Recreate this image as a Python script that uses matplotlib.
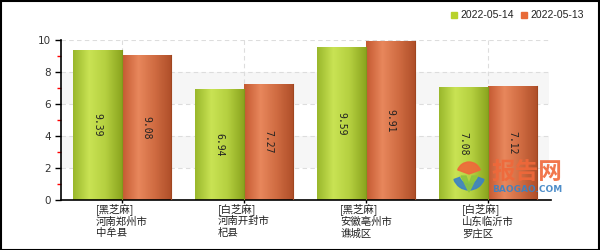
import numpy as np
import matplotlib
matplotlib.use("Agg")
import matplotlib.pyplot as plt
from matplotlib.colors import LinearSegmentedColormap
from matplotlib.patches import Rectangle, Wedge, Polygon

# data
categories = ["[黑芝麻]\n河南郑州市\n中牟县", "[白芝麻]\n河南开封市\n杞县",
              "[黑芝麻]\n安徽亳州市\n谯城区", "[白芝麻]\n山东临沂市\n罗庄区"]
series_names = ["2022-05-14", "2022-05-13"]
values_0514 = [9.39, 6.94, 9.59, 7.08]
values_0513 = [9.08, 7.27, 9.91, 7.12]
yticks = [0, 2, 4, 6, 8, 10]

cjk = ["Noto Sans CJK SC", "DejaVu Sans"]

fig = plt.figure(figsize=(6, 2.5), dpi=100)
fig.patch.set_facecolor("white")
fig.patches.append(Rectangle((0.001, 0.002), 0.997, 0.994, transform=fig.transFigure,
                             fill=False, edgecolor="black", linewidth=1.5))

ax = fig.add_axes([61 / 600, 50 / 250, 488 / 600, 160 / 250])
ax.set_xlim(-0.5, 3.5)
ax.set_ylim(0, 10)

# background bands and grid
for lo in (2, 6):
    ax.axhspan(lo, lo + 2, color="#f6f6f6", zorder=0, lw=0)
for y in yticks[1:]:
    ax.axhline(y, color="#dddddd", lw=0.8, ls=(0, (4, 3)), zorder=0.5)
for i in range(len(categories)):
    ax.axvline(i, color="#dddddd", lw=0.8, ls=(0, (4, 3)), zorder=0.5)

x = np.arange(len(categories))
w = 0.4
green = LinearSegmentedColormap.from_list("g", ["#9ab82c", "#c9e354", "#b5d040", "#8ca61f"])
red = LinearSegmentedColormap.from_list("r", ["#c55a32", "#e8875c", "#d06c42", "#b0502a"])
grad = np.linspace(0, 1, 64).reshape(1, -1)

for vals, off, cmap, edge in [(values_0514, -w / 2, green, "#7f981c"),
                              (values_0513, w / 2, red, "#a04620")]:
    bars = ax.bar(x + off, vals, width=w, color="none", edgecolor="none", zorder=2)
    for b, v in zip(bars, vals):
        x0, y0 = b.get_x(), b.get_y()
        im = ax.imshow(grad, cmap=cmap, aspect="auto", zorder=2,
                       extent=(x0, x0 + b.get_width(), y0, y0 + b.get_height()))
        im.set_clip_path(b)
        ax.plot([x0 + b.get_width()] * 2, [0, v], color=edge, lw=0.8, zorder=3)
        ax.text(x0 + b.get_width() / 2, v / 2, f"{v:.2f}", rotation=-90,
                ha="center", va="center", fontsize=7, family="DejaVu Sans Mono",
                color="#222222", zorder=4)
ax.set_xlim(-0.5, 3.5)
ax.set_ylim(0, 10)

for s in ("top", "right"):
    ax.spines[s].set_visible(False)
ax.spines["left"].set_linewidth(1.2)
ax.spines["bottom"].set_linewidth(1.2)
ax.spines["bottom"].set_bounds(-0.5, 3.52)

ax.set_yticks(yticks)
ax.set_yticklabels([str(t) for t in yticks], fontsize=7.5, color="#333333")
ax.set_yticks([1, 3, 5, 7, 9], minor=True)
ax.tick_params(axis="y", which="major", length=4, width=1, pad=3)
ax.tick_params(axis="y", which="minor", length=3, width=1, color="red")

ax.set_xticks(x)
ax.set_xticklabels(categories, fontsize=7.5, family=cjk, color="#222222",
                   linespacing=1.2, multialignment="left")
ax.tick_params(axis="x", length=2, width=1, pad=0)

# legend
for i, (name, c) in enumerate(zip(series_names, ["#b8d22c", "#e86a38"])):
    xl = (451 + 70 * i) / 600
    fig.patches.append(Rectangle((xl, 1 - 18 / 250), 6 / 600, 6 / 250,
                                 transform=fig.transFigure, color=c))
    fig.text(xl + 9 / 600, 1 - 15 / 250, name, fontsize=7.5, va="center",
             family="Liberation Sans", color="#222222")

# watermark
fig.text(491 / 600, 1 - 172 / 250, "报告网", fontsize=17, family=cjk,
         fontweight="bold", color="#f0683a", va="center", alpha=0.9)
fig.text(492 / 600, 1 - 189 / 250, "BAOGAO.COM", fontsize=6.5, fontweight="bold",
         color="#3b82c4", va="center", alpha=0.9)
lax = fig.add_axes([452 / 600, 1 - 196 / 250, 34 / 600, 36 / 250])
lax.set_xlim(0, 34)
lax.set_ylim(0, 36)
lax.axis("off")
lax.add_patch(Wedge((17, 22), 12, 20, 160, color="#f0683a", alpha=0.9))
lax.add_patch(Wedge((17, 22), 16, 200, 340, width=6, color="#3b82c4", alpha=0.9))
lax.add_patch(Polygon([[9, 20], [17, 4], [25, 20], [20, 20], [17, 12], [14, 20]],
                      color="#8cc63f", alpha=0.9))

fig.savefig("out.png", dpi=100)
